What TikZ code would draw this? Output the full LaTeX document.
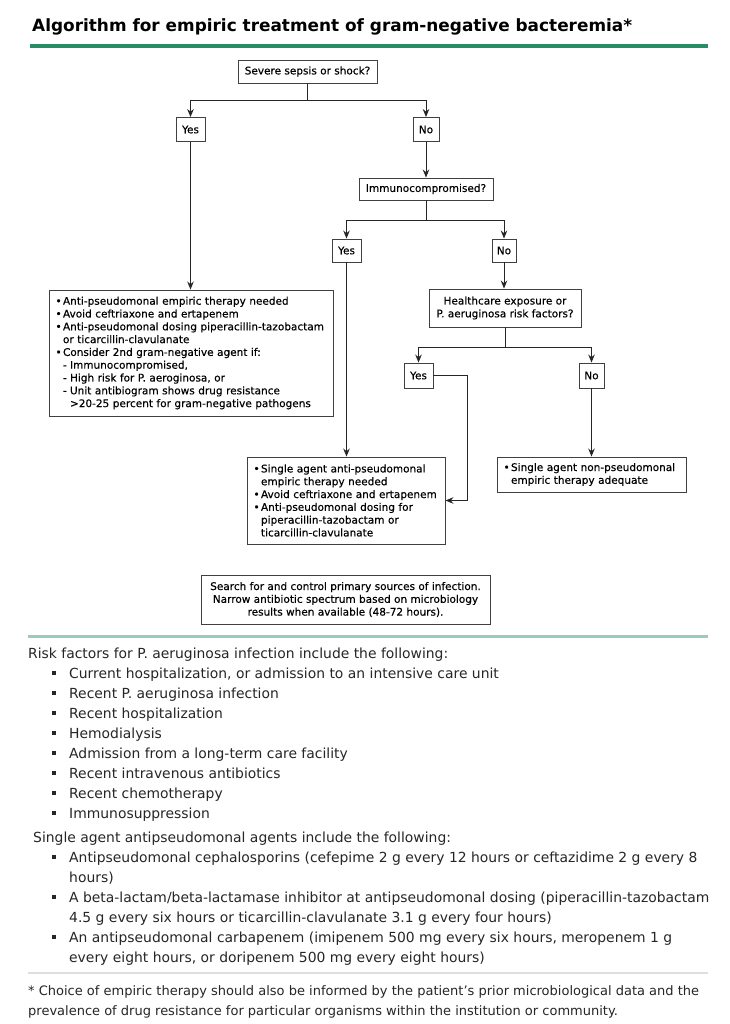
\documentclass[tikz,border=0pt]{standalone}
\usepackage{fontspec}
\setmainfont{DejaVu Sans}
\newfontfamily\flowfam{DejaVu Sans}[FakeBold=0.35]
\usetikzlibrary{positioning,arrows.meta,shadows}
\definecolor{titlegreen}{RGB}{40,140,100}
\definecolor{palegreen}{RGB}{155,204,184}
\definecolor{rulegrey}{RGB}{222,222,222}
\newcommand{\flowfont}{\flowfam\fontsize{10.5}{12.8}\selectfont}
\newcommand{\listfont}{\fontsize{13.9}{20}\selectfont}
\newcommand{\bl}{\hspace*{1.5pt}\makebox[7.5pt][l]{•}}
\newcommand{\ind}{\hspace*{9pt}}
\newcommand{\dl}{\ind\makebox[7pt][l]{-}}
\newcommand{\sqb}{\rule[3pt]{4pt}{4pt}\hspace{13pt}}

\begin{document}
\begin{tikzpicture}[x=1pt,y=-1pt,
            box/.style={draw=black!75, line width=0.9pt, fill=white, inner sep=5pt,
                font=\flowfont, text=black,
                drop shadow={shadow xshift=1pt, shadow yshift=-1pt, opacity=0.35}},
            answer/.style={box, inner sep=0pt, minimum height=24pt},
            line/.style={draw=black!85, line width=1pt},
            arr/.style={line, -{Stealth[length=8pt,width=6.5pt]}},
            listline/.style={anchor=base west, inner sep=0pt, font=\listfont, text=black!85}]

            \fill[white] (0,0) rectangle (729,1024);
            \useasboundingbox (0,0) rectangle (729,1024);

            \node [anchor=base west, inner sep=0pt, font=\fontsize{16.9}{20}\selectfont\bfseries] (title) at (32,32)
            {Algorithm for empiric treatment of gram-negative bacteremia*};
            \draw [titlegreen, line width=4pt] (30,46) -- (708,46);

            \node [box, inner sep=0pt, minimum width=139pt, minimum height=23pt] (sepsis) at (307.5,71.5) {Severe sepsis or shock?};
            \node [answer, minimum width=29pt] (yes1) at (190.5,129.5) {Yes};
            \node [answer, minimum width=26pt] (no1) at (426,129.5) {No};
            \node [box, inner sep=0pt, minimum width=134pt, minimum height=22pt] (immuno) at (426,189) {Immunocompromised?};
            \node [answer, minimum width=29pt, minimum height=23pt] (yes2) at (346.5,250.5) {Yes};
            \node [answer, minimum width=24pt, minimum height=23pt] (no2) at (504,250.5) {No};

            \node [box, text width=274pt, minimum height=126pt, align=left] (anti) at (191,353) {
            \bl Anti-pseudomonal empiric therapy needed\\
            \bl Avoid ceftriaxone and ertapenem\\
            \bl Anti-pseudomonal dosing piperacillin-tazobactam\\
            \ind or ticarcillin-clavulanate\\
            \bl Consider 2nd gram-negative agent if:\\
            \dl Immunocompromised,\\
            \dl High risk for P. aeroginosa, or\\
            \dl Unit antibiogram shows drug resistance\\
            \ind\hspace*{7pt}>20-25 percent for gram-negative pathogens};

            \node [box, inner sep=0pt, minimum width=152pt, minimum height=38pt, align=center] (health) at (505,308)
            {Healthcare exposure or\\P. aeruginosa risk factors?};
            \node [answer, minimum width=29pt, minimum height=25pt] (yes3) at (418.5,375.5) {Yes};
            \node [answer, minimum width=25pt, minimum height=25pt] (no3) at (591.5,375.5) {No};

            \node [box, text width=188pt, minimum height=87pt, align=left] (single) at (346,500.5) {
            \bl Single agent anti-pseudomonal\\
            \ind empiric therapy needed\\
            \bl Avoid ceftriaxone and ertapenem\\
            \bl Anti-pseudomonal dosing for\\
            \ind piperacillin-tazobactam or\\
            \ind ticarcillin-clavulanate};
            \node [box, text width=179pt, minimum height=35pt, align=left] (nonpseudo) at (591.5,474.5) {
            \bl Single agent non-pseudomonal\\
            \ind empiric therapy adequate};

            \node [box, inner sep=0pt, minimum width=289pt, minimum height=49pt, align=center] (source) at (345.5,599.5) {
            Search for and control primary sources of infection.\\
            Narrow antibiotic spectrum based on microbiology\\
            results when available (48-72 hours).};

            \coordinate (b1) at (307.5,101);
            \coordinate (b2) at (426,221);
            \coordinate (b3) at (505,347);

            \draw [line] (sepsis) -- (b1);
            \draw [arr] (b1) -| (yes1);
            \draw [arr] (b1) -| (no1);
            \draw [arr] (no1) -- (immuno);
            \draw [line] (immuno) -- (b2);
            \draw [arr] (b2) -| (yes2);
            \draw [arr] (b2) -| (no2);
            \draw [arr] (yes1) -- (yes1 |- anti.north);
            \draw [arr] (no2) -- (no2 |- health.north);
            \draw [line] (health) -- (b3);
            \draw [arr] (b3) -| (yes3);
            \draw [arr] (b3) -| (no3);
            \draw [arr] (yes2) -- (yes2 |- single.north);
            \draw [arr] (no3) -- (no3 |- nonpseudo.north);
            \draw [arr] (yes3.east) -- ++(34,0) |- (single.east);

            \draw [palegreen, line width=3pt] (28,636) -- (708,636);

            \node [listline] (r0) at (28,658) {Risk factors for P. aeruginosa infection include the following:};
            \node [listline] (r1) at (52,678) {\sqb Current hospitalization, or admission to an intensive care unit};
            \node [listline] (r2) at (52,698) {\sqb Recent P. aeruginosa infection};
            \node [listline] (r3) at (52,718) {\sqb Recent hospitalization};
            \node [listline] (r4) at (52,738) {\sqb Hemodialysis};
            \node [listline] (r5) at (52,758) {\sqb Admission from a long-term care facility};
            \node [listline] (r6) at (52,778) {\sqb Recent intravenous antibiotics};
            \node [listline] (r7) at (52,798) {\sqb Recent chemotherapy};
            \node [listline] (r8) at (52,818) {\sqb Immunosuppression};

            \node [listline] (s0) at (33,842) {Single agent antipseudomonal agents include the following:};
            \node [listline] (s1) at (52,862) {\sqb Antipseudomonal cephalosporins (cefepime 2 g every 12 hours or ceftazidime 2 g every 8};
            \node [listline] (s2) at (69,882) {hours)};
            \node [listline] (s3) at (52,902) {\sqb A beta-lactam/beta-lactamase inhibitor at antipseudomonal dosing (piperacillin-tazobactam};
            \node [listline] (s4) at (69,922) {4.5 g every six hours or ticarcillin-clavulanate 3.1 g every four hours)};
            \node [listline] (s5) at (52,942) {\sqb An antipseudomonal carbapenem (imipenem 500 mg every six hours, meropenem 1 g};
            \node [listline] (s6) at (69,962) {every eight hours, or doripenem 500 mg every eight hours)};

            \draw [rulegrey, line width=2pt] (28,973) -- (708,973);

            \node [listline, font=\fontsize{13}{20}\selectfont] (f1) at (28,995) {* Choice of empiric therapy should also be informed by the patient's prior microbiological data and the};
            \node [listline, font=\fontsize{13}{20}\selectfont] (f2) at (28,1015) {prevalence of drug resistance for particular organisms within the institution or community.};
        \end{tikzpicture}
\end{document}
